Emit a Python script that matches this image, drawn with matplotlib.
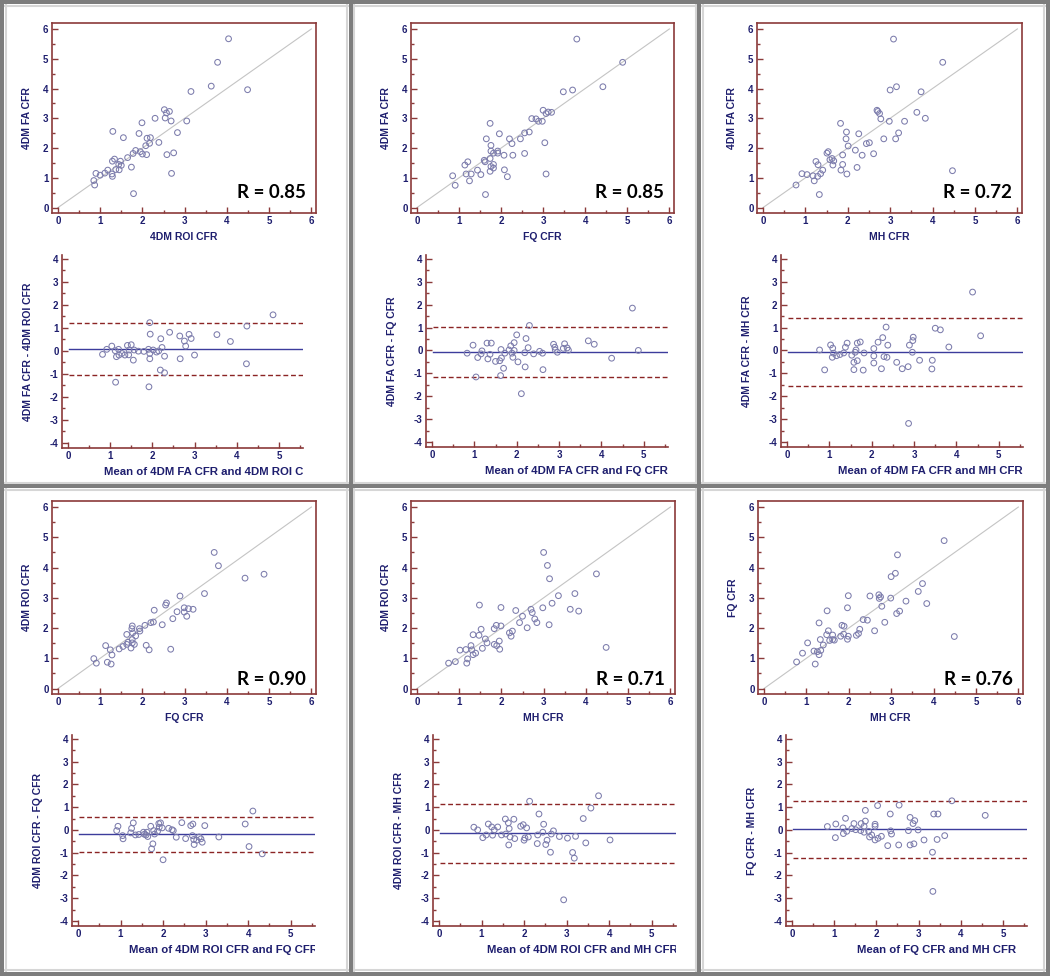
import matplotlib
matplotlib.use("Agg")
import matplotlib.pyplot as plt
from matplotlib.lines import Line2D
from matplotlib.ticker import MultipleLocator
from matplotlib.transforms import Bbox, TransformedBbox

plt.rcParams["axes.unicode_minus"] = False

# ---------------- data: scatter plots ----------------
sc1_x = [4.04, 3.78, 3.63, 4.49, 3.15, 2.52, 2.64, 2.57, 2.30, 2.54, 2.68, 3.05, 1.30, 1.99, 1.92, 2.83,
         1.55, 2.11, 2.19, 2.39, 2.17, 2.08, 1.84, 1.95, 2.00, 2.10, 1.78, 2.58, 2.74, 1.65, 1.34, 1.29,
         1.48, 1.44, 1.50, 1.37, 1.45, 1.18, 1.74, 1.11, 1.28, 0.90, 1.00, 1.29, 2.69, 0.85, 0.87, 1.79]
sc1_y = [5.67, 4.88, 4.08, 3.96, 3.90, 3.29, 3.23, 3.18, 3.00, 3.01, 2.91, 2.91, 2.56, 2.85, 2.49, 2.52,
         2.35, 2.33, 2.35, 2.19, 2.16, 2.08, 1.92, 1.88, 1.80, 1.78, 1.82, 1.78, 1.84, 1.68, 1.63, 1.56,
         1.56, 1.45, 1.42, 1.28, 1.27, 1.26, 1.36, 1.16, 1.13, 1.15, 1.09, 1.05, 1.15, 0.91, 0.76, 0.47]

sc2_x = [3.80, 4.89, 4.42, 3.70, 3.48, 3.00, 3.12, 3.20, 3.07, 2.73, 2.83, 2.89, 2.98, 1.74, 1.96, 2.56,
         2.67, 1.65, 2.20, 2.46, 2.26, 3.04, 1.76, 1.76, 1.92, 1.92, 1.82, 2.07, 2.28, 2.56, 1.74, 1.60,
         1.62, 1.14, 1.21, 1.82, 1.76, 1.82, 1.44, 1.74, 2.08, 1.17, 1.29, 1.52, 0.85, 2.15, 3.07, 1.25,
         0.91, 1.63]
sc2_y = [5.66, 4.88, 4.06, 3.95, 3.89, 3.27, 3.21, 3.20, 3.16, 2.99, 2.98, 2.90, 2.90, 2.83, 2.48, 2.51,
         2.54, 2.31, 2.31, 2.31, 2.15, 2.18, 2.09, 1.90, 1.90, 1.83, 1.83, 1.76, 1.76, 1.82, 1.65, 1.59,
         1.54, 1.43, 1.54, 1.45, 1.38, 1.33, 1.26, 1.22, 1.27, 1.13, 1.13, 1.11, 1.07, 1.04, 1.13, 0.90,
         0.75, 0.44]

sc3_x = [3.08, 4.24, 3.15, 3.00, 3.73, 2.69, 2.71, 2.75, 3.63, 2.78, 3.83, 2.98, 3.34, 1.83, 1.97, 2.26,
         3.20, 1.96, 2.85, 3.13, 2.44, 2.51, 2.01, 2.18, 1.51, 1.54, 1.88, 2.34, 2.61, 1.63, 1.67, 1.58,
         1.25, 1.30, 1.65, 1.88, 1.41, 1.84, 2.22, 1.18, 1.29, 1.36, 0.92, 1.04, 1.21, 1.98, 4.47, 0.78,
         1.33]
sc3_y = [5.66, 4.88, 4.06, 3.95, 3.89, 3.27, 3.23, 3.16, 3.20, 2.98, 3.00, 2.90, 2.90, 2.83, 2.54, 2.48,
         2.51, 2.31, 2.31, 2.31, 2.15, 2.18, 2.07, 1.93, 1.83, 1.88, 1.77, 1.76, 1.81, 1.65, 1.57, 1.61,
         1.55, 1.44, 1.43, 1.45, 1.26, 1.26, 1.35, 1.07, 1.05, 1.14, 1.14, 1.11, 0.90, 1.13, 1.24, 0.76,
         0.44]

sc4_x = [3.70, 3.80, 4.43, 4.88, 3.47, 2.89, 2.57, 2.55, 2.28, 2.99, 3.09, 3.20, 2.99, 2.82, 3.05, 2.72,
         2.47, 2.26, 2.20, 2.06, 1.76, 1.75, 1.93, 1.94, 1.84, 1.63, 1.77, 1.76, 1.66, 1.63, 1.54, 1.45,
         1.81, 1.73, 1.76, 2.09, 2.16, 2.67, 1.13, 1.24, 1.28, 1.17, 1.26, 0.85, 0.91]
sc4_y = [4.50, 4.06, 3.65, 3.78, 3.14, 3.06, 2.83, 2.76, 2.59, 2.67, 2.64, 2.62, 2.53, 2.54, 2.39, 2.31,
         2.11, 2.20, 2.18, 2.09, 2.07, 1.98, 1.98, 1.90, 1.74, 1.79, 1.84, 1.62, 1.53, 1.46, 1.39, 1.31,
         1.46, 1.34, 1.51, 1.43, 1.28, 1.30, 1.42, 1.28, 1.11, 0.87, 0.81, 0.99, 0.84]

sc5_x = [3.00, 3.09, 3.14, 4.25, 4.48, 3.74, 3.35, 1.48, 1.99, 2.34, 2.70, 2.98, 3.20, 3.63, 3.83, 2.73,
         2.50, 2.79, 2.43, 2.84, 2.61, 3.13, 1.88, 1.99, 1.83, 1.52, 1.33, 1.47, 2.26, 2.19, 2.23, 1.62,
         1.66, 1.95, 1.83, 1.89, 1.28, 1.55, 1.96, 1.30, 1.16, 1.02, 1.39, 1.33, 1.20, 1.18, 0.91, 0.75]
sc5_y = [4.50, 4.07, 3.63, 3.79, 1.36, 3.14, 3.07, 2.76, 2.68, 2.58, 2.62, 2.67, 2.82, 2.62, 2.56, 2.51,
         2.39, 2.30, 2.18, 2.18, 2.01, 2.11, 2.09, 2.07, 1.98, 1.96, 1.78, 1.76, 1.90, 1.84, 1.73, 1.64,
         1.51, 1.57, 1.46, 1.42, 1.42, 1.33, 1.30, 1.28, 1.29, 1.27, 1.17, 1.12, 0.98, 0.84, 0.89, 0.84]

sc6_x = [4.25, 3.15, 3.10, 3.00, 3.74, 3.64, 1.99, 2.50, 2.71, 2.75, 2.72, 2.99, 3.35, 3.84, 2.78, 1.49,
         1.97, 3.20, 3.13, 1.30, 2.34, 2.44, 2.85, 2.26, 2.61, 1.52, 1.84, 1.89, 1.62, 1.48, 1.81, 1.99,
         2.18, 2.23, 1.62, 1.55, 1.66, 1.33, 1.97, 1.88, 1.40, 1.03, 1.34, 1.18, 1.26, 0.91, 1.30, 1.21,
         0.77, 4.49]
sc6_y = [4.89, 4.42, 3.81, 3.70, 3.47, 3.21, 3.07, 3.06, 3.10, 3.03, 2.98, 2.99, 2.89, 2.81, 2.72, 2.57,
         2.67, 2.56, 2.48, 2.17, 2.28, 2.26, 2.19, 1.96, 1.91, 1.91, 2.09, 2.06, 1.77, 1.78, 1.73, 1.73,
         1.76, 1.82, 1.62, 1.59, 1.60, 1.62, 1.63, 1.80, 1.44, 1.51, 1.26, 1.24, 1.22, 1.17, 1.12, 0.81,
         0.88, 1.72]

# ---------------- data: Bland-Altman plots ----------------
ba1_mean = [4.86, 4.24, 4.23, 3.85, 3.53, 1.94, 2.41, 1.95, 2.20, 2.65, 2.87, 2.92, 2.76, 2.79, 3.00, 2.66,
            2.29, 2.23, 2.15, 2.19, 2.29, 1.92, 1.13, 1.94, 1.94, 1.91, 1.80, 2.02, 2.10, 1.55, 1.44, 1.50,
            1.41, 1.45, 1.28, 1.35, 1.20, 1.15, 1.21, 1.04, 1.12, 0.92, 0.82, 1.57, 1.67]
ba1_diff = [1.57, 1.08, -0.56, 0.41, 0.71, 1.23, 0.81, 0.73, 0.53, 0.65, 0.72, 0.54, 0.43, 0.21, -0.18, -0.34,
            -0.23, 0.15, 0.00, -0.83, -0.95, -1.56, -1.36, -0.11, -0.34, 0.07, -0.02, 0.04, -0.05, -0.40, -0.17, 0.27,
            0.24, 0.04, -0.11, -0.18, 0.07, -0.25, -0.18, 0.21, 0.01, 0.07, -0.15, 0.04, -0.01]

ba2_mean = [4.73, 4.87, 4.24, 3.69, 3.83, 3.13, 3.19, 3.10, 3.22, 2.87, 2.90, 2.91, 2.96, 2.61, 2.54, 2.62,
            2.40, 2.30, 2.00, 2.22, 2.27, 2.19, 2.20, 2.03, 2.11, 1.94, 1.86, 1.82, 1.94, 1.89, 1.91, 1.72,
            1.69, 1.63, 1.64, 1.60, 1.62, 1.50, 1.40, 1.30, 1.37, 1.32, 1.18, 1.16, 1.08, 0.97, 0.83, 1.04]
ba2_diff = [1.85, 0.00, -0.34, 0.42, 0.27, 0.29, 0.11, 0.09, 0.01, 0.27, 0.14, 0.02, -0.08, -0.12, -0.04, -0.84,
            -0.15, 1.09, 0.68, 0.52, 0.12, -0.10, -0.72, -0.50, -1.89, 0.34, 0.20, 0.02, 0.00, -0.12, -0.30, -0.12,
            -0.78, 0.04, -0.33, -0.45, -1.10, -0.48, 0.32, 0.32, -0.17, -0.37, -0.02, -0.15, -0.31, 0.23, -0.12, -1.16]

ba3_mean = [4.38, 4.57, 3.50, 3.62, 3.82, 3.43, 3.42, 3.13, 2.98, 2.97, 2.89, 2.96, 2.86, 2.87, 2.72, 2.59,
            2.34, 2.26, 2.38, 2.15, 2.05, 2.05, 2.29, 2.36, 2.05, 2.23, 1.80, 1.82, 1.73, 1.66, 1.63, 1.61,
            1.66, 1.58, 1.58, 1.53, 1.42, 1.38, 1.34, 1.25, 1.17, 1.10, 1.07, 1.03, 1.08, 0.77, 0.89]
ba3_diff = [2.55, 0.64, 0.97, 0.90, 0.15, -0.43, -0.81, -0.43, 0.58, 0.43, 0.23, -0.08, -0.71, -3.19, -0.80, -0.52,
            1.02, 0.56, 0.23, 0.36, 0.08, -0.24, -0.27, -0.30, -0.55, -0.80, -0.86, -0.11, 0.37, 0.32, 0.02, -0.08,
            -0.45, -0.52, -0.84, -0.21, 0.32, 0.14, -0.11, -0.18, -0.23, -0.12, -0.30, 0.24, 0.10, 0.02, -0.85]

ba4_mean = [4.11, 3.93, 4.02, 4.33, 3.31, 2.98, 2.70, 2.65, 2.69, 2.73, 2.79, 2.85, 2.89, 2.92, 2.72, 2.44,
            2.53, 2.31, 2.21, 2.24, 2.13, 1.94, 1.98, 1.91, 1.87, 1.90, 1.78, 1.80, 1.76, 1.73, 2.00, 1.71,
            1.62, 1.64, 1.56, 1.54, 1.60, 1.43, 1.35, 1.30, 1.26, 1.24, 1.06, 1.05, 0.94, 0.91]
ba4_diff = [0.83, 0.26, -0.73, -1.05, -0.31, 0.19, 0.26, 0.19, -0.25, -0.64, -0.45, -0.31, -0.39, -0.54, -0.42, 0.32,
            -0.38, -0.32, 0.01, -0.03, 0.07, 0.31, 0.09, 0.12, -0.06, 0.28, -0.03, -0.18, -0.61, -0.83, -1.31, 0.16,
            -0.10, -0.29, -0.19, -0.10, -0.22, -0.20, -0.22, 0.31, 0.07, -0.13, -0.39, -0.25, 0.16, -0.03]

ba5_mean = [3.75, 3.57, 3.39, 3.45, 4.02, 3.21, 3.02, 3.14, 3.18, 2.83, 2.69, 2.64, 2.62, 2.93, 2.35, 2.46,
            2.44, 2.54, 2.51, 2.32, 2.31, 2.13, 2.06, 1.98, 1.92, 2.10, 2.02, 2.00, 1.76, 1.56, 1.63, 1.65,
            1.67, 1.78, 1.64, 1.57, 1.47, 1.38, 1.30, 1.24, 1.16, 1.26, 1.11, 1.03, 0.91, 0.82]
ba5_diff = [1.50, 0.96, 0.50, -0.57, -0.44, -0.28, -0.36, -0.99, -1.24, -0.29, -0.04, -0.18, -0.98, -3.07, 0.70, 0.25,
            -0.10, -0.45, -0.64, -0.22, -0.60, 1.26, 0.09, 0.23, 0.16, -0.31, -0.35, -0.45, 0.47, 0.48, 0.31, 0.06,
            -0.31, -0.38, -0.66, -0.18, -0.22, 0.13, 0.00, 0.13, 0.26, -0.23, -0.22, -0.34, 0.00, 0.12]

ba6_mean = [4.58, 3.79, 3.36, 3.46, 3.62, 3.44, 3.33, 3.13, 2.99, 3.34, 2.91, 2.87, 2.80, 2.76, 2.89, 2.80,
            2.54, 2.53, 2.33, 2.34, 2.36, 2.27, 2.03, 2.12, 2.04, 1.97, 1.97, 1.97, 1.74, 1.74, 1.71, 1.71,
            1.63, 1.64, 1.82, 1.84, 1.89, 1.47, 1.51, 1.42, 1.27, 1.30, 1.21, 1.22, 1.03, 1.04, 0.84]
ba6_diff = [0.64, 1.28, 0.70, 0.70, -0.25, -0.42, -0.98, -0.44, 0.00, -2.70, 0.41, 0.28, 0.55, -0.03, -0.61, -0.66,
            1.09, -0.66, 0.70, -0.04, -0.18, -0.69, 1.07, -0.28, -0.37, -0.44, 0.25, 0.16, 0.86, 0.39, 0.16, -0.10,
            -0.03, 0.28, -0.06, -0.31, -0.22, 0.28, 0.01, 0.06, 0.51, -0.06, 0.09, -0.16, -0.34, 0.26, 0.15]

ba_bias = [0.10, -0.08, -0.07, -0.18, -0.15, 0.02]
ba_upper = [1.23, 1.02, 1.42, 0.58, 1.13, 1.25]
ba_lower = [-1.03, -1.18, -1.55, -0.95, -1.45, -1.22]

# ---------------- text ----------------
scatter_xlabels = ["4DM ROI CFR", "FQ CFR", "MH CFR", "FQ CFR", "MH CFR", "MH CFR"]
scatter_ylabels = ["4DM FA CFR", "4DM FA CFR", "4DM FA CFR", "4DM ROI CFR", "4DM ROI CFR", "FQ CFR"]
r_labels = ["R = 0.85", "R = 0.85", "R = 0.72", "R = 0.90", "R = 0.71", "R = 0.76"]
ba_xlabels = ["Mean of 4DM FA CFR and 4DM ROI CFR", "Mean of 4DM FA CFR and FQ CFR",
              "Mean of 4DM FA CFR and MH CFR", "Mean of 4DM ROI CFR and FQ CFR",
              "Mean of 4DM ROI CFR and MH CFR", "Mean of FQ CFR and MH CFR"]
ba_ylabels = ["4DM FA CFR - 4DM ROI CFR", "4DM FA CFR - FQ CFR", "4DM FA CFR - MH CFR",
              "4DM ROI CFR - FQ CFR", "4DM ROI CFR - MH CFR", "FQ CFR - MH CFR"]
scatter_ticks = [0, 1, 2, 3, 4, 5, 6]
ba_xticks = [0, 1, 2, 3, 4, 5]
ba_yticks = [-4, -3, -2, -1, 0, 1, 2, 3, 4]

scatter_data = [(sc1_x, sc1_y), (sc2_x, sc2_y), (sc3_x, sc3_y),
                (sc4_x, sc4_y), (sc5_x, sc5_y), (sc6_x, sc6_y)]
ba_data = [(ba1_mean, ba1_diff), (ba2_mean, ba2_diff), (ba3_mean, ba3_diff),
           (ba4_mean, ba4_diff), (ba5_mean, ba5_diff), (ba6_mean, ba6_diff)]

# ---------------- layout (pixels) ----------------
W, H = 1050, 976
sc_box = [(52, 316, 23, 213), (411, 674, 23, 213), (757, 1022, 23, 213),
          (52, 316, 501, 694), (411, 675, 501, 694), (758, 1023, 501, 694)]
ba_box = [(62, 303, 255, 448), (426, 668, 255, 447), (781, 1023, 255, 447),
          (72, 315, 735, 926), (433, 676, 735, 926), (786, 1027, 735, 926)]
ba_xlabel_start = [104, 485, 838, 129, 487, 857]
panel_left = [5, 354, 702, 5, 354, 702]
r_y = [0.5, 0.5, 0.5, 0.3, 0.3, 0.3]

NAVY = "#1e1e6e"
FRAME = "#8b3a3a"
MARK = "#7c7cac"
FONT = "Liberation Sans"

fig = plt.figure(figsize=(W / 100, H / 100), dpi=100)
fig.patch.set_facecolor("white")


def add_axes_px(l, r, t, b):
    return fig.add_axes([l / W, 1 - b / H, (r - l) / W, (b - t) / H])


def style_ticks(ax):
    ax.tick_params(which="both", direction="in", colors=FRAME, width=1.0,
                   labelcolor=NAVY, labelsize=7, pad=2.5, top=False, right=False)
    ax.tick_params(which="major", length=4)
    ax.tick_params(which="minor", length=2.2)
    for lab in ax.get_xticklabels() + ax.get_yticklabels():
        lab.set_fontweight("bold")
        lab.set_fontfamily(FONT)


for i in range(6):
    # ---------- scatter ----------
    l, r, t, b = sc_box[i]
    ax = add_axes_px(l, r, t, b)
    xs, ys = scatter_data[i]
    ax.plot([0, 6], [0, 6], color="#c4c4c4", lw=0.8, zorder=1)
    ax.scatter(xs, ys, s=17, facecolors="none", edgecolors=MARK, linewidths=0.75, zorder=2)
    ax.set_xlim(-0.14, 6.11)
    ax.set_ylim(-0.18, 6.2)
    ax.set_xticks(scatter_ticks)
    ax.set_yticks(scatter_ticks)
    ax.xaxis.set_minor_locator(MultipleLocator(0.5))
    ax.yaxis.set_minor_locator(MultipleLocator(0.5))
    for sp in ax.spines.values():
        sp.set_color(FRAME)
        sp.set_linewidth(1.2)
    style_ticks(ax)
    ax.text(0.5, -0.125, scatter_xlabels[i], transform=ax.transAxes, ha="center", va="center",
            fontsize=7.5, fontweight="bold", color=NAVY, family=FONT)
    ax.text(-0.095, 0.5, scatter_ylabels[i], transform=ax.transAxes, ha="center", va="center",
            rotation=90, fontsize=7.5, fontweight="bold", color=NAVY, family=FONT)
    ax.text(5.87, r_y[i], r_labels[i], ha="right", va="center", fontsize=13.5,
            fontweight="bold", color="black", family="Lato")

    # ---------- Bland-Altman ----------
    l, r, t, b = ba_box[i]
    bx = add_axes_px(l, r, t, b)
    mx, dy = ba_data[i]
    xmax = 5.57
    bx.plot([0.03, xmax], [ba_bias[i]] * 2, color="#3c3c9c", lw=1.0, zorder=1)
    bx.plot([0.03, xmax], [ba_upper[i]] * 2, color="#8b2424", lw=1.0, ls=(0, (3.5, 2)), zorder=1)
    bx.plot([0.03, xmax], [ba_lower[i]] * 2, color="#8b2424", lw=1.0, ls=(0, (3.5, 2)), zorder=1)
    bx.scatter(mx, dy, s=17, facecolors="none", edgecolors=MARK, linewidths=0.75, zorder=2)
    bx.set_xlim(-0.14, xmax)
    bx.set_ylim(-4.22, 4.17)
    bx.set_xticks(ba_xticks)
    bx.set_yticks(ba_yticks)
    bx.xaxis.set_minor_locator(MultipleLocator(0.5))
    bx.yaxis.set_minor_locator(MultipleLocator(0.5))
    bx.spines["top"].set_visible(False)
    bx.spines["right"].set_visible(False)
    for k in ("left", "bottom"):
        bx.spines[k].set_color(FRAME)
        bx.spines[k].set_linewidth(1.2)
    bx.patch.set_alpha(0)
    style_ticks(bx)
    bx.text(-(34 / (r - l)), 0.5, ba_ylabels[i], transform=bx.transAxes,
            ha="center", va="center", rotation=90, fontsize=7.5, fontweight="bold",
            color=NAVY, family=FONT)
    t_ = fig.text(ba_xlabel_start[i] / W, 1 - (b + 24) / H, ba_xlabels[i], ha="left", va="center",
                  fontsize=8.2, fontweight="bold", color=NAVY, family=FONT)
    clip = TransformedBbox(Bbox.from_extents(panel_left[i] / W, 0, r / W, 1), fig.transFigure)
    t_.set_clip_box(clip)
    t_.set_clip_on(True)

# ---------------- panel borders ----------------
GRAY = "#7d7d7d"
LIGHT = "#d6d6d6"
lw_px = 4 * 0.72
# faint inner shading next to the borders (drawn first, under the dark frame)
for x in (5.5, 354, 702.5, 347, 695.5, 1044):
    fig.add_artist(Line2D([x / W, x / W], [0, 1], transform=fig.transFigure, color=LIGHT, lw=1.5,
                          zorder=0.5))
for y in (5.5, 490, 483, 970):
    fig.add_artist(Line2D([0, 1], [1 - y / H, 1 - y / H], transform=fig.transFigure, color=LIGHT, lw=1.5,
                          zorder=0.5))
for x in (2, 350.5, 699, 1047.5):
    fig.add_artist(Line2D([x / W, x / W], [0, 1], transform=fig.transFigure, color=GRAY, lw=lw_px,
                          zorder=5))
for y in (2, 486.5, 973.5):
    fig.add_artist(Line2D([0, 1], [1 - y / H, 1 - y / H], transform=fig.transFigure, color=GRAY, lw=lw_px,
                          zorder=5))

fig.savefig("out.png", dpi=100, facecolor="white")
